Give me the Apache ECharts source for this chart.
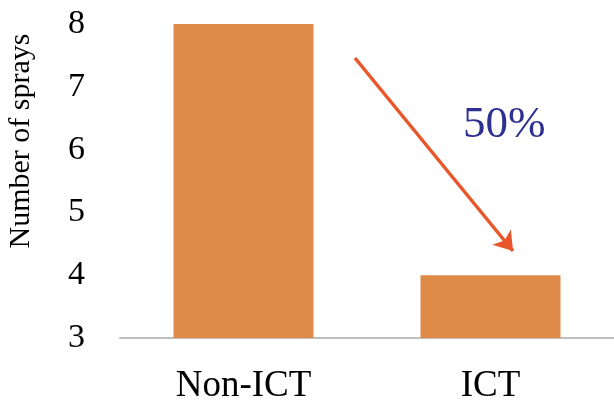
<!DOCTYPE html>
<html>
<head>
<meta charset="utf-8">
<script src="https://cdn.jsdelivr.net/npm/echarts@6/dist/echarts.min.js"></script>
<style>
  html, body { margin: 0; padding: 0; background: #fff; }
  #chart { width: 614px; height: 403px; }
</style>
</head>
<body>
<div id="chart"></div>
<script>
const groups = ['Non-ICT', 'ICT'];
const sprays = [8, 4];
const reductionLabel = '50%';

const chart = echarts.init(document.getElementById('chart'));
const font = '"Liberation Serif", "Times New Roman", serif';

chart.setOption({
  animation: false,
  grid: { left: 120, right: 0, top: 24, bottom: 65, outerBoundsMode: 'none', containLabel: false },
  xAxis: {
    type: 'category',
    data: groups,
    axisTick: { show: false },
    axisLine: { lineStyle: { color: '#bfbfbf', width: 2 } },
    axisLabel: { color: '#000', fontFamily: font, fontSize: 37, margin: 30 }
  },
  yAxis: {
    type: 'value',
    min: 3,
    max: 8,
    interval: 1,
    name: 'Number of sprays',
    nameLocation: 'middle',
    nameGap: 84,
    nameTextStyle: { color: '#000', fontFamily: font, fontSize: 30, padding: [0, 0, 0, 80] },
    splitLine: { show: false },
    axisLine: { show: false },
    axisTick: { show: false },
    axisLabel: { color: '#000', fontFamily: font, fontSize: 34, margin: 35 }
  },
  graphic: [{
    type: 'text',
    left: 463,
    top: 103,
    style: { text: reductionLabel, fill: '#2e3192', font: '45px ' + font }
  }],
  series: [{
    type: 'bar',
    data: sprays,
    barWidth: 140,
    itemStyle: { color: '#df8a48' },
    markLine: {
      silent: true,
      symbol: ['none', 'arrow'],
      symbolSize: 18,
      label: { show: false },
      lineStyle: { color: '#e8562a', width: 3.5, type: 'solid' },
      data: [[{ x: 355, y: 58 }, { x: 513, y: 251 }]]
    }
  }]
});
</script>
</body>
</html>
